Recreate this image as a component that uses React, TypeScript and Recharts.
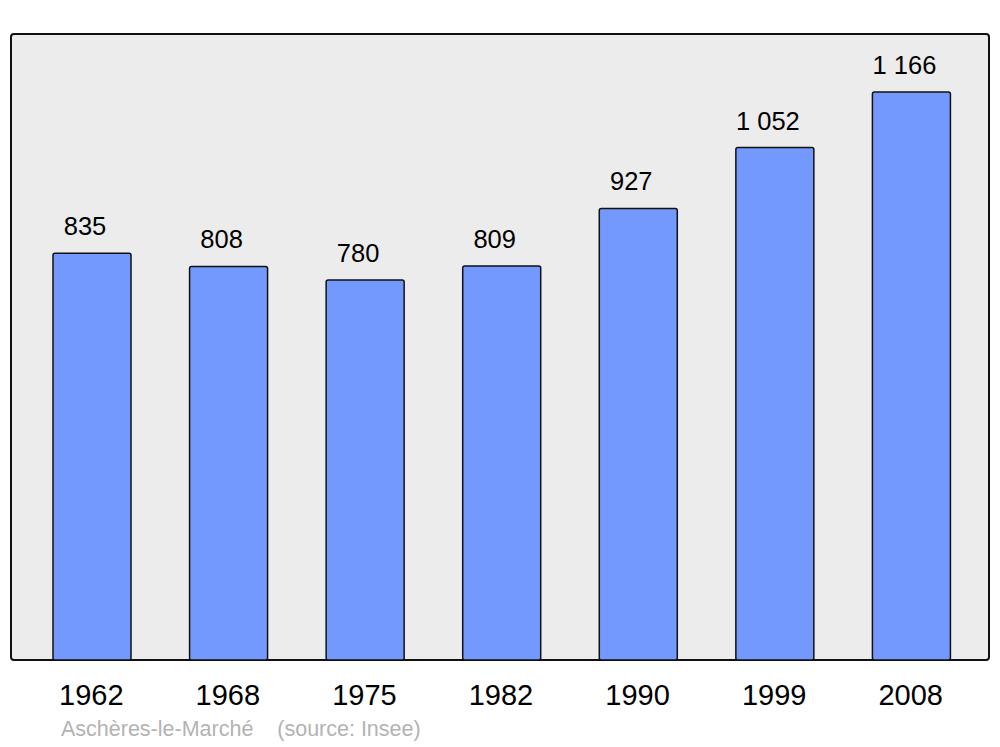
import { Bar, BarChart, LabelList, XAxis, YAxis } from 'recharts';

const years = ['1962', '1968', '1975', '1982', '1990', '1999', '2008'];
const population = [835, 808, 780, 809, 927, 1052, 1166];
const valueLabels = ['835', '808', '780', '809', '927', '1 052', '1 166'];

const chartData = years.map((year, i) => ({
  year,
  population: population[i],
  label: valueLabels[i],
}));

const font = '"Liberation Sans", Arial, sans-serif';

export default function App() {
  return (
    <div style={{ position: 'absolute', left: 0, top: 0, width: 1000, height: 747, background: '#fff', fontFamily: font }}>
      <div
        style={{
          position: 'absolute',
          left: 10,
          top: 33,
          width: 980,
          height: 628,
          boxSizing: 'border-box',
          border: '2.5px solid #111',
          borderRadius: 4,
          background: '#ececec',
        }}
      />
      <div style={{ position: 'absolute', left: 0, top: 0 }}>
        <BarChart
          width={1000}
          height={747}
          data={chartData}
          margin={{ top: 34, right: 11, bottom: 57, left: 11 }}
        >
          <XAxis
            dataKey='year'
            height={30}
            axisLine={false}
            tickLine={false}
            tickSize={0}
            tickMargin={24}
            padding={{ left: 13, right: 9 }}
            tick={{ fill: '#000', fontSize: 29, fontFamily: font, dx: -1 }}
          />
          <YAxis hide domain={[0, 1285]} />
          <Bar
            dataKey='population'
            fill='#7399ff'
            stroke='#111'
            strokeWidth={1.5}
            barSize={78}
            radius={2}
            isAnimationActive={false}
          >
            <LabelList
              dataKey='label'
              position='top'
              offset={18}
              dx={-7}
              fill='#000'
              fontSize={25.5}
              fontFamily={font}
            />
          </Bar>
        </BarChart>
      </div>
      <div
        style={{
          position: 'absolute',
          left: 61,
          top: 717,
          fontSize: 21.5,
          color: '#b3b3b3',
          whiteSpace: 'pre',
        }}
      >
        {'Aschères-le-Marché    (source: Insee)'}
      </div>
    </div>
  );
}
